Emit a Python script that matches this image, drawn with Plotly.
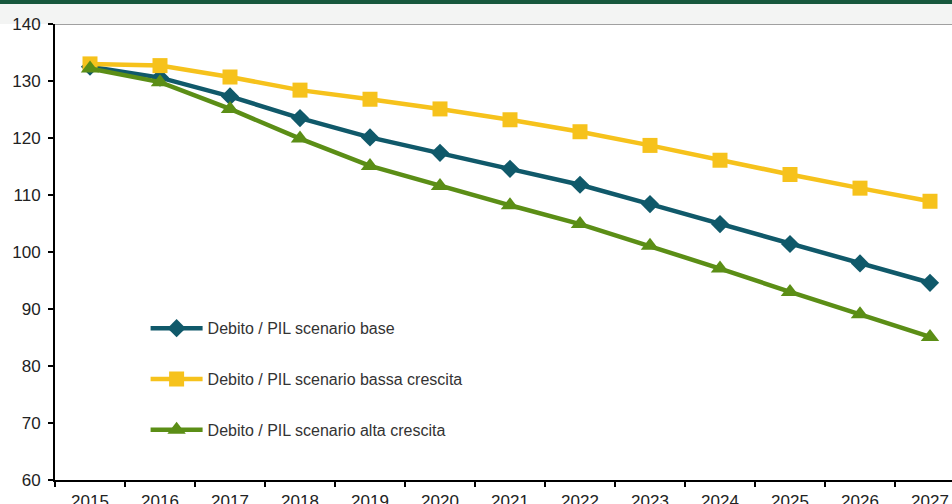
import plotly.graph_objects as go

anni = ['2015', '2016', '2017', '2018', '2019', '2020', '2021',
        '2022', '2023', '2024', '2025', '2026', '2027']

base = [132.5, 130.6, 127.3, 123.5, 120.1, 117.4, 114.6, 111.8, 108.4, 104.9, 101.4, 98.0, 94.6]
bassa = [133.0, 132.7, 130.7, 128.4, 126.8, 125.1, 123.2, 121.1, 118.7, 116.1, 113.6, 111.2, 108.9]
alta = [132.2, 129.8, 125.1, 119.9, 115.1, 111.6, 108.2, 104.9, 101.1, 97.1, 93.0, 89.1, 85.1]

nomi = ['Debito / PIL scenario base',
        'Debito / PIL scenario bassa crescita',
        'Debito / PIL scenario alta crescita']

y_ticks = [60, 70, 80, 90, 100, 110, 120, 130, 140]

col_base = '#10596a'
col_bassa = '#f6c21c'
col_alta = '#5b8e16'

fig = go.Figure()
fig.add_trace(go.Scatter(x=anni, y=base, name=nomi[0], legendgroup='a',
                         mode='lines+markers',
                         line=dict(color=col_base, width=4.5),
                         marker=dict(symbol='diamond', size=14, color=col_base)))
fig.add_trace(go.Scatter(x=anni, y=bassa, name=nomi[1], legendgroup='b',
                         mode='lines+markers',
                         line=dict(color=col_bassa, width=4.5),
                         marker=dict(symbol='square', size=15, color=col_bassa)))
fig.add_trace(go.Scatter(x=anni, y=alta, name=nomi[2], legendgroup='c',
                         mode='lines+markers',
                         line=dict(color=col_alta, width=4.5),
                         marker=dict(symbol='triangle-up', size=16, color=col_alta)))

plot_h = 504 - 24 - 24
# banda verde scura in alto + striscia chiara
fig.add_shape(type='rect', xref='paper', yref='paper', x0=0 - 55 / 897, x1=1,
              y0=1 + 20 / plot_h, y1=1 + 24 / plot_h,
              fillcolor='#17573c', line_width=0, layer='below')
fig.add_shape(type='rect', xref='paper', yref='paper', x0=0 - 55 / 897, x1=1,
              y0=1, y1=1 + 20 / plot_h,
              fillcolor='#f3f4f3', line_width=0, layer='below')
fig.add_shape(type='line', xref='paper', yref='y', x0=0, x1=1, y0=140, y1=140,
              line=dict(color='#a0a0a0', width=2))

fig.update_layout(
    width=952, height=504,
    margin=dict(l=55, r=0, t=24, b=24),
    paper_bgcolor='white', plot_bgcolor='white',
    font=dict(family='Liberation Sans, Arial, sans-serif', color='#333333'),
    showlegend=True,
    legend=dict(x=0.101, y=0.37, xanchor='left', yanchor='top',
                bgcolor='rgba(0,0,0,0)', font=dict(size=16, color='#333333'),
                itemwidth=52, tracegroupgap=27),
    xaxis=dict(type='category', range=[-0.5, -0.5 + 897 / 70],
               tickson='boundaries', ticks='outside', ticklen=5, tickwidth=2,
               tickcolor='black', showline=True, linecolor='black', linewidth=2,
               showgrid=False, ticklabelstandoff=5, automargin=False,
               tickfont=dict(size=17, color='#222222')),
    yaxis=dict(range=[60, 140], tickvals=y_ticks, ticks='outside', ticklen=5,
               tickwidth=2, tickcolor='black', showline=True, linecolor='black',
               linewidth=2, showgrid=False, zeroline=False, ticklabelstandoff=4,
               automargin=False, tickfont=dict(size=17, color='#222222')),
)

# la pagina non deve avere il margine di default del body
fig.write_html("out.html", config=dict(displayModeBar=False),
               post_script="document.body.style.margin='0';")
